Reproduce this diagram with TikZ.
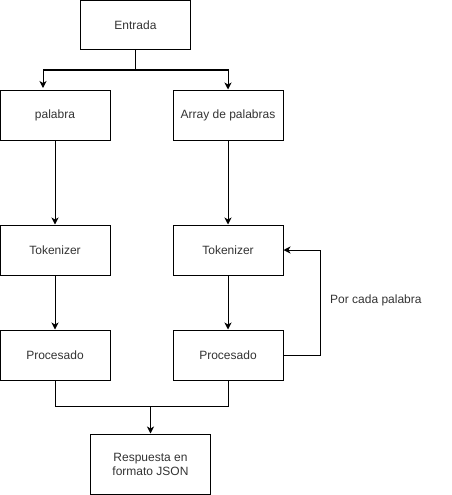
\documentclass[tikz,border=0pt]{standalone}
\usepackage{fontspec}
\setmainfont{Liberation Sans}
\usetikzlibrary{arrows.meta}
\begin{document}
\begin{tikzpicture}[x=1pt,y=-1pt,
  box/.style={draw,line width=1pt,minimum width=110pt,minimum height=50pt,inner sep=0pt,
    align=center,font=\fontsize{12}{14}\selectfont,text=black!80},
  link/.style={line width=1pt,-{Stealth[length=7pt,width=7pt,inset=2pt]}},
  plain/.style={line width=1pt}]
\useasboundingbox (0,0) rectangle (451,495);
\node[box,minimum height=49pt] (entrada) at (135.5,25) {Entrada};
\node[box] (palabra) at (55,115) {palabra};
\node[box] (array) at (228,115) {Array de palabras};
\node[box] (tokL) at (55,250) {Tokenizer};
\node[box] (tokR) at (228,250) {Tokenizer};
\node[box] (procL) at (55,355) {Procesado};
\node[box] (procR) at (228,355) {Procesado};
\node[box,minimum width=120pt,minimum height=60pt] (resp) at (150.5,464) {Respuesta en\\formato JSON};
\node[font=\fontsize{12}{14}\selectfont,text=black!80,anchor=west,inner sep=0pt] (lbl) at (330,300) {Por cada palabra};
\coordinate (jM) at (135.5,70);
\coordinate (jL) at (43,70);
\coordinate (jR) at (228,70);
\coordinate (tipL) at (43,88);
\coordinate (loop1) at (320,355);
\coordinate (loop2) at (320,250);
\coordinate (bL) at (55,406);
\coordinate (bR) at (228,406);
\coordinate (bM) at (150.5,406);
\draw[plain] (entrada.south) -- (jM);
\draw[link] (jM) -- (jL) -- (tipL);
\draw[link] (jM) -- (jR) -- (array.north);
\draw[link] (palabra) -- (tokL);
\draw[link] (array) -- (tokR);
\draw[link] (tokL) -- (procL);
\draw[link] (tokR) -- (procR);
\draw[link] (procR.east) -- (loop1) -- (loop2) -- (tokR.east);
\draw[plain] (procL.south) -- (bL) -- (bR) -- (procR.south);
\draw[link] (bM) -- (resp.north);
\end{tikzpicture}
\end{document}
